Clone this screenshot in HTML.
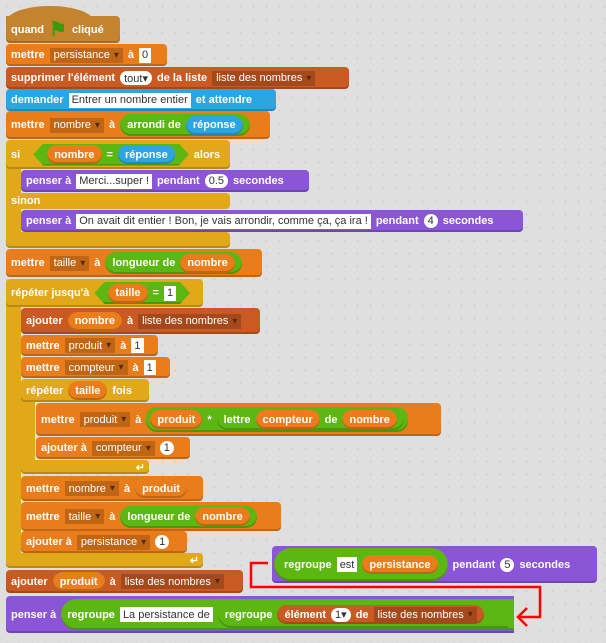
<!DOCTYPE html>
<html><head><meta charset="utf-8"><style>
body{margin:0;width:606px;height:643px;overflow:hidden;background-color:#dfdfdf;background-image:radial-gradient(#cfcfcf 1px,transparent 1.2px);background-size:13px 13px;position:relative;font-family:"Liberation Sans",sans-serif}
.b{position:absolute;display:flex;align-items:center;padding-left:5px;box-sizing:border-box;border-radius:4px;color:#fff;font-weight:bold;font-size:11px;white-space:nowrap;gap:5px;box-shadow:inset 0 -2px 0 rgba(0,0,0,.18)}
.v{background:#ea7d1b}.l{background:#c85a22}.s{background:#2ca5e2}.k{background:#8a55d7}.c{background:#e1a91a}.o{background:#5cb712}.e{background:#c4832f}
.dd{background:rgba(0,0,0,.18);font-weight:normal;padding:0 4px;height:15px;display:inline-flex;align-items:center;font-size:11px}
.dd:after{content:"\25BE";font-size:10px;color:#5a2a05;margin-left:4px}
.in{background:#fff;color:#333;font-weight:normal;padding:0 3px;height:15px;display:inline-flex;align-items:center}
.num{background:#fff;color:#333;font-weight:normal;padding:0 4px;height:14px;display:inline-flex;align-items:center;border-radius:8px}
.p{border-radius:11px;padding:0 7px;height:19px;display:flex;align-items:center;gap:5px;box-shadow:inset 0 -2px 0 rgba(0,0,0,.18)}
.hex{clip-path:polygon(0 50%,10px 0,calc(100% - 10px) 0,100% 50%,calc(100% - 10px) 100%,10px 100%)}
</style></head><body>

<div style="position:absolute;left:6px;top:6px;width:88px;height:26px;border-radius:44px 44px 0 0/16px 16px 0 0;background:#c4832f"></div>
<div class="b e" style="left:6px;top:16px;width:114px;height:27px;border-radius:0 4px 4px 4px">quand <span style="color:#3a9a0f;font-size:20px">&#9873;</span> cliqué</div>
<div class="b v" style="left:6px;top:44px;width:161px;height:22px">mettre <span class="dd">persistance</span> à <span class="in">0</span></div>
<div class="b l" style="left:6px;top:67px;width:343px;height:22px">supprimer l'élément <span class="num">tout▾</span> de la liste <span class="dd">liste des nombres</span></div>
<div class="b s" style="left:6px;top:89px;width:270px;height:22px">demander <span class="in">Entrer un nombre entier</span> et attendre</div>
<div class="b v" style="left:6px;top:111px;width:264px;height:28px">mettre <span class="dd">nombre</span> à <span class="p o" style="height:22px">arrondi de <span class="p s">réponse</span></span></div>

<!-- si -->
<div class="b c" style="left:6px;top:140px;width:15px;height:108px;border-radius:4px 0 0 4px;padding:0"></div>
<div class="b c" style="left:6px;top:140px;width:224px;height:29px">si <span class="p o hex" style="height:22px;padding:0 14px;margin-left:8px;border-radius:0"><span class="p v">nombre</span> = <span class="p s">réponse</span></span> alors</div>
<div class="b k" style="left:21px;top:170px;width:288px;height:22px">penser à <span class="in">Merci...super !</span> pendant <span class="num">0.5</span> secondes</div>
<div class="b c" style="left:6px;top:193px;width:224px;height:16px;border-radius:0 4px 4px 0;box-shadow:none">sinon</div>
<div class="b k" style="left:21px;top:210px;width:502px;height:22px">penser à <span class="in">On avait dit entier ! Bon, je vais arrondir, comme ça, ça ira !</span> pendant <span class="num">4</span> secondes</div>
<div class="b c" style="left:6px;top:232px;width:224px;height:16px;border-radius:0 4px 4px 4px"></div>

<div class="b v" style="left:6px;top:249px;width:256px;height:28px">mettre <span class="dd">taille</span> à <span class="p o" style="height:22px">longueur de <span class="p v">nombre</span></span></div>

<!-- répéter jusqu'à -->
<div class="b c" style="left:6px;top:279px;width:15px;height:289px;border-radius:4px 0 0 4px;padding:0"></div>
<div class="b c" style="left:6px;top:279px;width:197px;height:28px">répéter jusqu'à <span class="p o hex" style="height:22px;padding:0 14px;border-radius:0"><span class="p v">taille</span> = <span class="in">1</span></span></div>
<div class="b l" style="left:21px;top:308px;width:239px;height:26px">ajouter <span class="p v">nombre</span> à <span class="dd">liste des nombres</span></div>
<div class="b v" style="left:21px;top:335px;width:137px;height:21px">mettre <span class="dd">produit</span> à <span class="in">1</span></div>
<div class="b v" style="left:21px;top:357px;width:149px;height:21px">mettre <span class="dd">compteur</span> à <span class="in">1</span></div>

<!-- répéter taille fois -->
<div class="b c" style="left:21px;top:379px;width:14px;height:95px;border-radius:4px 0 0 4px;padding:0"></div>
<div class="b c" style="left:21px;top:379px;width:128px;height:23px">répéter <span class="p v">taille</span> fois</div>
<div class="b v" style="left:36px;top:403px;width:405px;height:33px">mettre <span class="dd">produit</span> à <span class="p o" style="height:25px;padding:0 4px"><span class="p v">produit</span> * <span class="p o" style="height:21px">lettre <span class="p v">compteur</span> de <span class="p v">nombre</span></span></span></div>
<div class="b v" style="left:36px;top:437px;width:154px;height:22px">ajouter à <span class="dd">compteur</span> <span class="num">1</span></div>
<div class="b c" style="left:21px;top:460px;width:128px;height:14px;border-radius:0 4px 4px 4px;justify-content:flex-end;padding-right:4px">↵</div>

<div class="b v" style="left:21px;top:476px;width:182px;height:25px">mettre <span class="dd">nombre</span> à <span class="p v">produit</span></div>
<div class="b v" style="left:21px;top:502px;width:260px;height:29px">mettre <span class="dd">taille</span> à <span class="p o" style="height:22px">longueur de <span class="p v">nombre</span></span></div>
<div class="b v" style="left:21px;top:531px;width:166px;height:22px">ajouter à <span class="dd">persistance</span> <span class="num">1</span></div>
<div class="b c" style="left:6px;top:553px;width:197px;height:15px;border-radius:0 4px 4px 4px;justify-content:flex-end;padding-right:4px">↵</div>

<div class="b l" style="left:6px;top:570px;width:237px;height:23px">ajouter <span class="p v">produit</span> à <span class="dd">liste des nombres</span></div>

<div class="b k" style="left:6px;top:596px;width:508px;height:37px;border-radius:4px 0 0 4px">penser à <span class="p o" style="height:31px;padding:0 6px;border-radius:16px 0 0 16px;flex:1;overflow:hidden">regroupe <span class="in">La persistance de</span> <span class="p o" style="height:27px;border-radius:14px 0 0 14px;flex:1">regroupe <span class="p l">élément <span class="num">1▾</span> de <span class="dd">liste des nombres</span></span></span></span></div>

<div class="b k" style="left:272px;top:546px;width:325px;height:37px;padding-left:2px">
<span class="p o" style="height:33px;padding:0 10px;border-radius:17px">regroupe <span class="in">est</span> <span class="p v">persistance</span></span> pendant <span class="num">5</span> secondes</div>

<svg style="position:absolute;left:0;top:0" width="606" height="643">
<polyline points="268,563 251,563 251,587 540,587 540,617 519,617" fill="none" stroke="#f00" stroke-width="2.5"/>
<polyline points="527,608 518,617 527,626" fill="none" stroke="#f00" stroke-width="2.5"/>
</svg>
</body></html>
